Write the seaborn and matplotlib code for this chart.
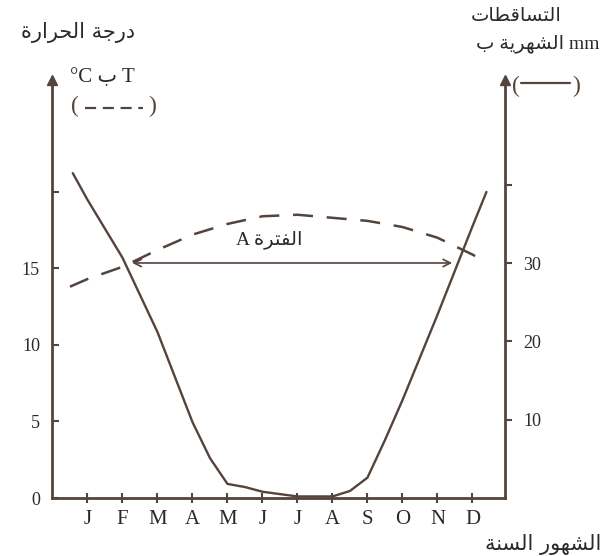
import matplotlib
matplotlib.use('Agg')
import matplotlib.pyplot as plt
from matplotlib.lines import Line2D
import seaborn as sns

months = ['J', 'F', 'M', 'A', 'M', 'J', 'J', 'A', 'S', 'O', 'N', 'D']
month_pos = [1, 2, 3, 4, 5, 6, 7, 8, 9, 10, 11, 12]

temp_pos = [0.5, 1, 2, 3, 4, 5, 6, 7, 8, 9, 10, 11, 12, 12.4]
temp_c = [13.8, 14.3, 15.1, 16.2, 17.2, 17.9, 18.4, 18.5, 18.3, 18.1, 17.7, 17.0, 15.9, 15.4]

rain_pos = [0.58, 1, 2, 3, 4, 4.5, 5, 5.5, 6, 7, 8, 8.5, 9, 9.5, 10, 11, 12, 12.4]
rain_mm = [41.5, 38.1, 30.7, 21.2, 9.7, 5.1, 1.8, 1.4, 0.8, 0.2, 0.2, 0.9, 2.6, 7.4, 12.5, 23.4, 34.7, 39.1]

temp_ticks = [0, 5, 10, 15, 20]
temp_labels = ['0', '5', '10', '15', '']
rain_ticks = [10, 20, 30, 40]
rain_labels = ['10', '20', '30', '']

# period A (where the two curves cross)
period_start, period_end, period_level = 2.2, 11.5, 15.35

ink = '#54443c'
txt = '#2a2a2a'

# --- minimal arabic shaping (matplotlib has no shaping engine) ---
FORMS = {  # isolated, final, initial, medial
    'ا': ('\uFE8D', '\uFE8E', None, None),
    'ب': ('\uFE8F', '\uFE90', '\uFE91', '\uFE92'),
    'ة': ('\uFE93', '\uFE94', None, None),
    'ت': ('\uFE95', '\uFE96', '\uFE97', '\uFE98'),
    'ج': ('\uFE9D', '\uFE9E', '\uFE9F', '\uFEA0'),
    'ح': ('\uFEA1', '\uFEA2', '\uFEA3', '\uFEA4'),
    'د': ('\uFEA9', '\uFEAA', None, None),
    'ر': ('\uFEAD', '\uFEAE', None, None),
    'س': ('\uFEB1', '\uFEB2', '\uFEB3', '\uFEB4'),
    'ش': ('\uFEB5', '\uFEB6', '\uFEB7', '\uFEB8'),
    'ط': ('\uFEC1', '\uFEC2', '\uFEC3', '\uFEC4'),
    'ف': ('\uFED1', '\uFED2', '\uFED3', '\uFED4'),
    'ق': ('\uFED5', '\uFED6', '\uFED7', '\uFED8'),
    'ل': ('\uFEDD', '\uFEDE', '\uFEDF', '\uFEE0'),
    'ن': ('\uFEE5', '\uFEE6', '\uFEE7', '\uFEE8'),
    'ه': ('\uFEE9', '\uFEEA', '\uFEEB', '\uFEEC'),
    'و': ('\uFEED', '\uFEEE', None, None),
    'ي': ('\uFEF1', '\uFEF2', '\uFEF3', '\uFEF4'),
}


def ar(text):
    out = []
    for i, ch in enumerate(text):
        if ch not in FORMS:
            out.append(ch)
            continue
        iso, fin, ini, med = FORMS[ch]
        prev = text[i - 1] if i > 0 else ''
        nxt = text[i + 1] if i + 1 < len(text) else ''
        j_prev = prev in FORMS and FORMS[prev][2] is not None
        j_next = ini is not None and nxt in FORMS
        if j_prev and j_next:
            out.append(med)
        elif j_prev:
            out.append(fin)
        elif j_next:
            out.append(ini)
        else:
            out.append(iso)
    return ''.join(reversed(out))


sns.set_style('ticks')
plt.rcParams['font.family'] = ['Liberation Serif', 'DejaVu Sans']
arab = ['DejaVu Sans']

fig = plt.figure(figsize=(6.16, 5.56), dpi=100)
ax = fig.add_axes([0.0852, 0.1043, 0.7346, 0.7518])
ax2 = ax.twinx()

sns.lineplot(x=temp_pos, y=temp_c, ax=ax, color=ink, lw=1.8, linestyle=(0, (8, 5.5)))
sns.lineplot(x=rain_pos, y=rain_mm, ax=ax2, color=ink, lw=1.7)

ax.set_xlim(0, 12.93)
ax.set_ylim(0, 27.3)
ax2.set_ylim(0, 53.4)

for s in ['top', 'right']:
    ax.spines[s].set_visible(False)
for s in ['top', 'left', 'bottom']:
    ax2.spines[s].set_visible(False)
for s in ['left', 'bottom']:
    ax.spines[s].set_color(ink)
    ax.spines[s].set_linewidth(2)
ax2.spines['right'].set_color(ink)
ax2.spines['right'].set_linewidth(2)

ax.set_xticks(month_pos)
ax.set_xticklabels(months)
ax.set_yticks(temp_ticks)
ax.set_yticklabels(temp_labels)
ax2.set_yticks(rain_ticks)
ax2.set_yticklabels(rain_labels)
ax.tick_params(axis='x', direction='inout', length=7, width=1.5, color=ink, pad=5,
               labelsize=15, labelcolor=txt)
ax.tick_params(axis='y', direction='in', length=5, width=1.5, color=ink, pad=9,
               labelsize=13, labelcolor=txt)
ax2.tick_params(axis='y', direction='out', length=5, width=1.5, color=ink, pad=8,
                labelsize=13, labelcolor=txt)
ax.set_xlabel('')
ax.set_ylabel('')
ax2.set_ylabel('')

# arrow heads on top of the two vertical axes
ax.plot([0, 1], [1, 1], ls='none', marker='^', ms=7, color=ink,
        transform=ax.transAxes, clip_on=False)

# period A
ax.annotate('', xy=(period_end, period_level), xytext=(period_start, period_level),
            arrowprops=dict(arrowstyle='<->', color=ink, lw=1.2, mutation_scale=13))
ax.text(6.2, 16.85, 'A ' + ar('الفترة'), ha='center', va='center',
        fontsize=14, color=txt)

# titles / legends
fig.text(0.127, 0.941, ar('درجة الحرارة'), ha='center', va='center',
         fontsize=15, color=txt, family=arab)
fig.text(0.167, 0.861, '°C ' + ar('ب') + ' T', ha='center', va='center',
         fontsize=15, color=txt)
fig.text(0.122, 0.808, '(', ha='center', va='center', fontsize=17, color=ink)
fig.text(0.247, 0.808, ')', ha='center', va='center', fontsize=17, color=ink)
fig.add_artist(Line2D([0.138, 0.232], [0.806, 0.806], transform=fig.transFigure,
                      color=ink, lw=1.6, ls=(0, (5, 3))))

fig.text(0.838, 0.973, ar('التساقطات'), ha='center', va='center',
         fontsize=14, color=txt, family=arab)
fig.text(0.873, 0.921, ar('الشهرية ب') + ' mm', ha='center', va='center',
         fontsize=14, color=txt)
fig.text(0.837, 0.845, '(', ha='center', va='center', fontsize=17, color=ink)
fig.text(0.935, 0.845, ')', ha='center', va='center', fontsize=17, color=ink)
fig.add_artist(Line2D([0.846, 0.925], [0.851, 0.851], transform=fig.transFigure,
                      color=ink, lw=1.6))

fig.text(0.881, 0.020, ar('الشهور السنة'), ha='center', va='center',
         fontsize=15, color=txt, family=arab)

fig.savefig('out.png', dpi=100)
